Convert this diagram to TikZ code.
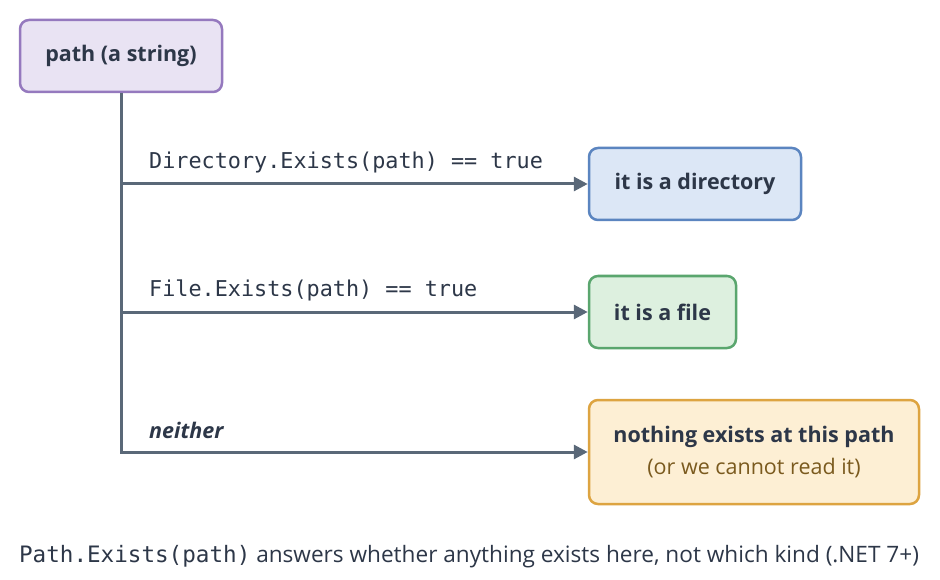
\documentclass[tikz,border=0pt]{standalone}
\usepackage{fontspec}
\setmainfont{Open Sans}
\setmonofont{DejaVu Sans Mono}
\usetikzlibrary{arrows.meta,positioning}
\definecolor{inkText}{HTML}{2D3748}
\definecolor{lineGray}{HTML}{5A6878}
\definecolor{purpleFill}{HTML}{E9E3F3}
\definecolor{purpleLine}{HTML}{9579BE}
\definecolor{blueFill}{HTML}{DCE7F6}
\definecolor{blueLine}{HTML}{5B85C0}
\definecolor{greenFill}{HTML}{DDF0DF}
\definecolor{greenLine}{HTML}{5AA66E}
\definecolor{amberFill}{HTML}{FDEFD4}
\definecolor{amberLine}{HTML}{DDA441}
\definecolor{amberText}{HTML}{7A5A1E}
\begin{document}
\begin{tikzpicture}
[boxDecorate/.style={rounded corners=9pt,line width=2.5pt,align=center,inner sep=0pt,
   text=inkText,font=\fontsize{21.5}{32}\selectfont\bfseries},%
  lineDecorate/.style={-{Triangle[length=14pt,width=14pt]},line width=3pt,draw=lineGray},%
  codeDecorate/.style={anchor=south west,inner sep=0pt,text=inkText,font=\fontsize{21.8}{24}\selectfont\ttfamily},%
  x=1pt,y=-1pt]
\path[fill=white] (0,0) rectangle (940,580);
%% nodes or boxes
\node (src) at (121,56) [boxDecorate,fill=purpleFill,draw=purpleLine,
  minimum width=202pt,minimum height=72pt] {path (a string)};
\foreach \nodename/\x/\y/\boxwidth/\shade/\kind in {
  dir/695/184/212/blue/directory, file/662.5/312/147/green/file}
{
  \node (\nodename) at (\x,\y) [boxDecorate,fill=\shade Fill,draw=\shade Line,
    minimum width=\boxwidth pt,minimum height=72pt] {it is a \kind};
}
\node (none) at (754,452) [boxDecorate,fill=amberFill,draw=amberLine,
  minimum width=330pt,minimum height=104pt]
  {nothing exists at this path\\{\mdseries\color{amberText}(or we cannot read it)}};
%% edges or lines
\coordinate (bDir) at (src.south |- dir.west);
\coordinate (bFile) at (src.south |- file.west);
\coordinate (bNone) at (src.south |- none.west);
\draw[line width=3pt,draw=lineGray] (src.south) -- ([yshift=-1.5pt]bNone);
\path
\foreach \startnode/\endnode in {bDir/dir, bFile/file, bNone/none}
{
  (\startnode) edge[lineDecorate] node {} (\endnode)
};
%% branch labels
\node [codeDecorate] at (149,173) {Directory.Exists(path) == true};
\node [codeDecorate] at (149,301) {File.Exists(path) == true};
\node [codeDecorate,font=\fontsize{21.5}{24}\selectfont\bfseries\itshape] at (149,439) {neither};
%% caption
\node (note) at (469,557) [text=inkText,font=\fontsize{22.6}{24}\selectfont,inner sep=0pt]
  {{\ttfamily Path.Exists(path)} answers whether anything exists here, not which kind (.NET 7+)};
\end{tikzpicture}
\end{document}
